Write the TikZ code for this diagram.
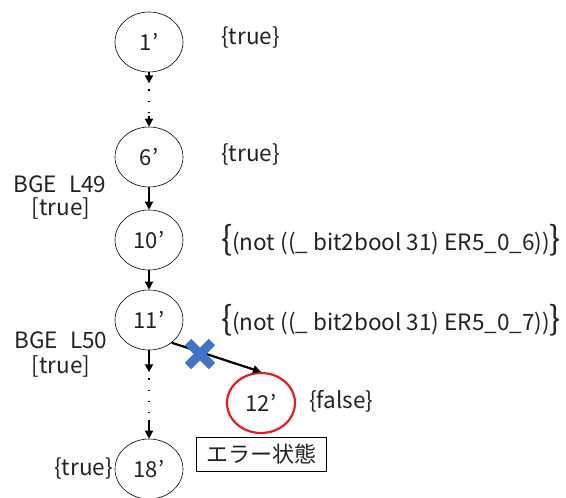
\documentclass[tikz,border=0pt]{standalone}
\usepackage{fontspec}
\setmainfont{Noto Sans CJK JP}
\usetikzlibrary{shapes.geometric,arrows.meta,calc}
\definecolor{xblue}{HTML}{4472C4}
\definecolor{errred}{HTML}{E02020}
\definecolor{txt}{HTML}{222222}
\newcommand{\bigbrL}{{\fontsize{33}{33}\selectfont\{}}
\newcommand{\bigbrR}{{\fontsize{33}{33}\selectfont\}}}
\begin{document}
\begin{tikzpicture}[x=1pt,y=-1pt,
  st/.style={ellipse,draw,line width=0.6pt,minimum width=68pt,minimum height=60pt,inner sep=0pt,text=txt,font=\fontsize{22}{26}\selectfont},
  lbl/.style={font=\fontsize{22.5}{26}\selectfont,inner sep=0pt,text=txt},
  arr/.style={line width=1.8pt,-{Triangle[width=8pt,length=8pt]}},
  dotline/.style={line width=1.1pt,dash pattern=on 1.1pt off 10pt,dash phase=5pt}]
\useasboundingbox (0,0) rectangle (566,498);
\node[st] (n1) at (149,42) {1’};
\node[st] (n6) at (149,157) {6’};
\node[st] (n10) at (149,240) {10’};
\node[st] (n11) at (149,320) {11’};
\node[st,draw=errred,line width=2.2pt] (n12) at (261,403) {12’};
\node[st] (n18) at (149,469) {18’};
% dotted connector 1' -> 6'
\coordinate (d1) at ($(n1.south)+(0,11)$);
\coordinate (d2) at ($(n6.north)+(0,-11)$);
\draw[arr] (n1.south) -- (d1);
\draw[dotline] (d1) -- (d2);
\draw[arr] (d2) -- (n6.north);
\draw[arr] (n6) -- (n10);
\draw[arr] (n10) -- (n11);
% dotted connector 11' -> 18'
\coordinate (e1) at ($(n11.south)+(0,22)$);
\coordinate (e2) at ($(n18.north)+(0,-19)$);
\draw[arr] (n11.south) -- (e1);
\draw[dotline] (e1) -- (e2);
\draw[arr] (e2) -- (n18.north);
% failed transition
\draw[line width=2.2pt,-{Triangle[width=8pt,length=8pt]}] (n11.-45) -- (n12.north);
\draw[xblue,line width=9pt] (188,342) -- (212,366) (212,342) -- (188,366);
% labels
\node[lbl,anchor=west] (t1) at (221,38) {\{true\}};
\node[lbl,anchor=west] (t6) at (221,155) {\{true\}};
\node[lbl] (b49) at (60,184) {BGE\hspace{12pt}L49};
\node[lbl] (b49t) at (61,209) {[true]};
\node[lbl,anchor=west] (c10) at (221,240) {\bigbrL(not ((\_ bit2bool 31) ER5\_0\_6))\bigbrR};
\node[lbl,anchor=west] (c11) at (221,320) {\bigbrL(not ((\_ bit2bool 31) ER5\_0\_7))\bigbrR};
\node[lbl] (b50) at (61,340) {BGE\hspace{12pt}L50};
\node[lbl] (b50t) at (61,366) {[true]};
\node[lbl,anchor=west] (f12) at (309,401) {\{false\}};
\node[lbl,anchor=east] (t18) at (113,468) {\{true\}};
\node[draw,line width=0.6pt,minimum width=130pt,minimum height=34pt,inner sep=0pt,text=txt,font=\fontsize{22}{24}\selectfont] (err) at (261,454) {エラー状態};
\end{tikzpicture}
\end{document}
